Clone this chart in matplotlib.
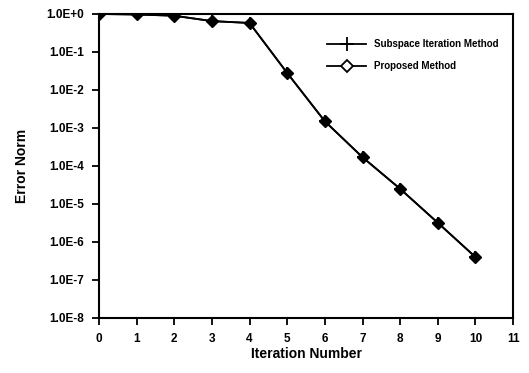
import matplotlib
matplotlib.use('Agg')
import math
import matplotlib.pyplot as plt
from matplotlib.lines import Line2D
from matplotlib.ticker import FuncFormatter

# valores
iteracao = [0, 1, 2, 3, 4, 5, 6, 7, 8, 9, 10]
subespaco = [1.0, 0.97, 0.9, 0.65, 0.58, 0.028, 1.5e-3, 1.7e-4, 2.5e-5, 3.2e-6, 4.0e-7]
proposto = [1.0, 0.97, 0.9, 0.65, 0.58, 0.028, 1.5e-3, 1.7e-4, 2.5e-5, 3.2e-6, 4.0e-7]

plt.rcParams['font.family'] = ['Liberation Sans', 'DejaVu Sans']
plt.rcParams['font.weight'] = 'bold'

fig = plt.figure(figsize=(5.29, 3.73), dpi=100)
ax = fig.add_axes([0.187, 0.1475, 0.783, 0.815])

ax.plot(iteracao, subespaco, color='black', lw=1.3, marker='+', ms=9, mew=1.3)
ax.plot(iteracao, proposto, color='black', lw=1.3, marker='D', ms=6,
        mfc='black', mec='black')

ax.set_yscale('log')
ax.set_ylim(1e-8, 1.0)
ax.set_xlim(0, 11)
ax.set_xticks(range(0, 12))
ax.set_yticks([10.0 ** -k for k in range(0, 9)])
ax.minorticks_off()
ax.yaxis.set_major_formatter(FuncFormatter(
    lambda v, p: '1.0E+0' if v >= 1 else '1.0E%d' % round(math.log10(v))))

for s in ax.spines.values():
    s.set_linewidth(1.5)
ax.tick_params(direction='out', length=5, width=1.3, labelsize=8.5, pad=6)
for t in ax.get_xticklabels() + ax.get_yticklabels():
    t.set_fontweight('bold')

ax.set_xlabel('Iteration Number', fontsize=10, fontweight='bold', labelpad=1)
ax.set_ylabel('Error Norm', fontsize=10, fontweight='bold', labelpad=12)

# legenda
handles = [Line2D([], [], color='black', lw=1.3, marker='+', ms=10, mew=1.3),
           Line2D([], [], color='black', lw=1.3, marker='D', ms=6, mfc='white', mew=1.3)]
ax.legend(handles, ['Subspace Iteration Method', 'Proposed Method'],
          loc='upper left', bbox_to_anchor=(0.53, 0.945), frameon=False,
          prop={'size': 7, 'weight': 'bold'}, handlelength=4.0,
          handletextpad=0.8, labelspacing=1.2)

plt.savefig('out.png', dpi=100)
